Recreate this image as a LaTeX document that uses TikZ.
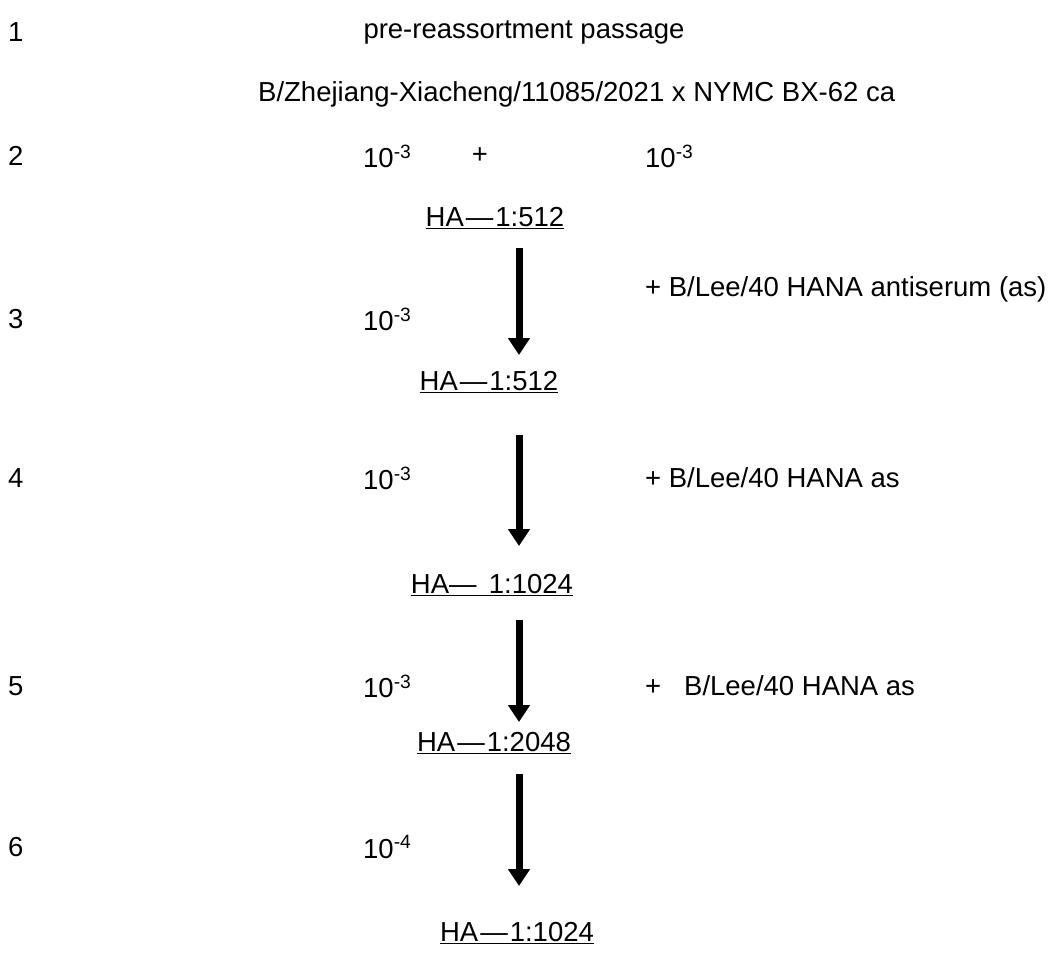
\documentclass[tikz,border=0pt]{standalone}
\usepackage{fontspec}
\setmainfont{Liberation Sans}
\usepackage{tikz}
\usetikzlibrary{arrows.meta,positioning,calc}

\newcommand{\hadash}{\kern2pt—\kern2pt}

\begin{document}
\begin{tikzpicture}[
        x=1pt, y=-1pt,
        every node/.style={inner sep=0pt, font=\fontsize{27.5}{33}\selectfont},
        rownum/.style={anchor=west},
        dilution/.style={anchor=west},
        titer/.style={anchor=center},
        serum/.style={anchor=west},
        bigarrow/.style={line width=7pt, -{Triangle[width=21pt,length=17pt]}}
    ]
    \useasboundingbox (0,0) rectangle (1053,960);

    % Rows
    \node[rownum] (r1) at (8,32) {1};
    \node[rownum] (r2) at (8,156) {2};
    \node[rownum] (r3) at (8,319) {3};
    \node[rownum] (r4) at (8,478) {4};
    \node[rownum] (r5) at (8,686) {5};
    \node[rownum] (r6) at (8,847) {6};

    % Header
    \node (title) at (524,32) {pre-reassortment passage};
    \node[anchor=west] (strain) at (258,94) {B/Zhejiang-Xiacheng/11085/2021 x NYMC BX-62 ca};

    % Dilutions
    \node[dilution] (d2a) at (363,156) {10\textsuperscript{-3}};
    \node (plus) at (480,156) {+};
    \node[dilution] (d2b) at (645,156) {10\textsuperscript{-3}};
    \node[dilution] (d3) at (363,319) {10\textsuperscript{-3}};
    \node[dilution] (d4) at (363,478) {10\textsuperscript{-3}};
    \node[dilution] (d5) at (363,686) {10\textsuperscript{-3}};
    \node[dilution] (d6) at (363,847) {10\textsuperscript{-4}};

    % HA titers
    \node[titer] (ha1) at (495,218) {\underline{HA\hadash 1:512}};
    \node[titer] (ha2) at (489,382) {\underline{HA\hadash 1:512}};
    \node[titer] (ha3) at (492,585) {\underline{HA— \,1:1024}};
    \node[titer] (ha4) at (494,743) {\underline{HA\hadash 1:2048}};
    \node[titer] (ha5) at (517,933) {\underline{HA\hadash 1:1024}};

    % Antiserum
    \node[serum] (as1) at (645,289) {+ B/Lee/40 HANA antiserum (as)};
    \node[serum] (as2) at (645,478) {+ B/Lee/40 HANA as};
    \node[serum] (as3) at (645,686) {+ \ \ B/Lee/40 HANA as};

    % Passages
    \coordinate (col) at (519,0);
    \draw[bigarrow, shorten <=19pt, shorten >=16pt] (ha1.south -| col) -- (ha2.north -| col);
    \draw[bigarrow, shorten <=42pt, shorten >=28pt] (ha2.south -| col) -- (ha3.north -| col);
    \draw[bigarrow, shorten <=24pt, shorten >=10pt] (ha3.south -| col) -- (ha4.north -| col);
    \draw[bigarrow, shorten <=20pt, shorten >=36pt] (ha4.south -| col) -- (ha5.north -| col);

\end{tikzpicture}
\end{document}
